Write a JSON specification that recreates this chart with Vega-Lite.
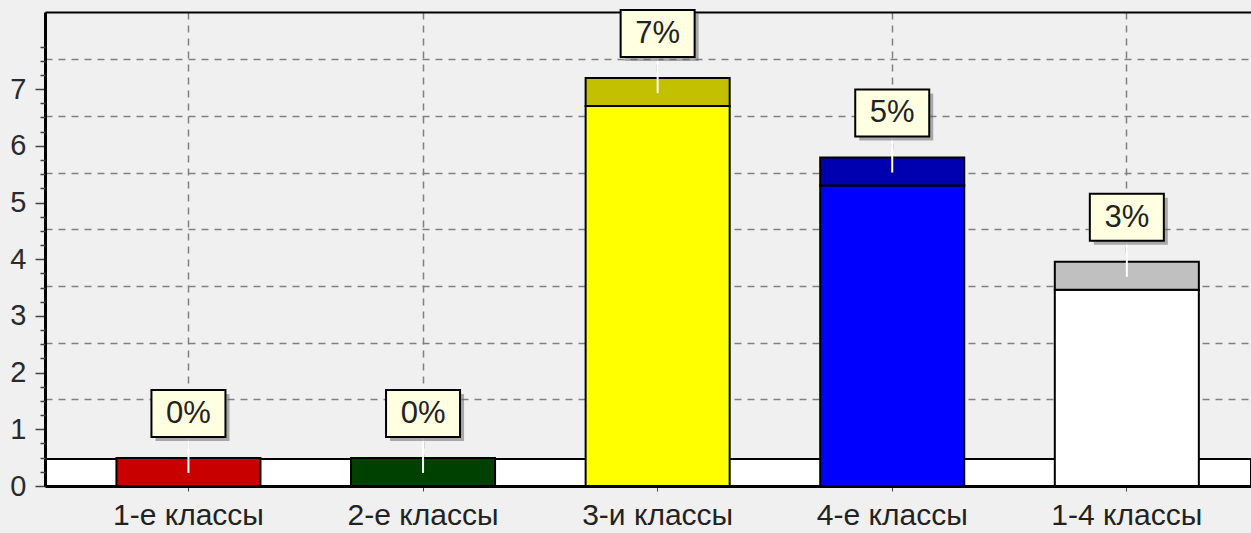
{
  "$schema": "https://vega.github.io/schema/vega-lite/v6.json",
  "width": 1206,
  "height": 474,
  "autosize": {"type": "none"},
  "padding": {"left": 45, "top": 12, "right": 0, "bottom": 47},
  "background": "#f0f0f0",
  "view": {"stroke": null, "fill": "#f0f0f0"},
  "data": {
    "values": [
      {"class": "1-е классы", "value": 0, "label": "0%"},
      {"class": "2-е классы", "value": 0, "label": "0%"},
      {"class": "3-и классы", "value": 6.7, "label": "7%"},
      {"class": "4-е классы", "value": 5.3, "label": "5%"},
      {"class": "1-4 классы", "value": 3.46, "label": "3%"}
    ]
  },
  "layer": [
    {
      "mark": {"type": "rect", "fill": "#ffffff", "stroke": "#000000", "strokeWidth": 2, "y2Offset": -27},
      "encoding": {
        "y": {
          "datum": 0, "type": "quantitative",
          "scale": {"domain": [0, 8.36], "nice": false, "zero": false},
          "axis": {"orient": "left", "values": [1, 2, 3, 4, 5, 6, 7], "grid": true, "gridDash": [7, 6], "gridColor": "#808080", "gridWidth": 1.5, "tickOffset": -30, "labels": false, "ticks": false, "domain": false, "title": null, "zindex": 0}
        },
        "y2": {"datum": 0}
      }
    },
    {
      "mark": {"type": "bar", "stroke": "#000000", "strokeWidth": 2},
      "encoding": {
        "x": {
          "field": "class", "type": "nominal", "sort": null,
          "scale": {"paddingInner": 0.386, "paddingOuter": 0.2634, "align": 0.578},
          "axis": {"orient": "bottom", "grid": true, "gridDash": [7, 6], "gridColor": "#808080", "gridWidth": 1.5, "domainColor": "#000000", "domainWidth": 3, "ticks": true, "tickSize": 5, "tickColor": "#444444", "labelFont": "Liberation Sans", "labelFontSize": 30, "labelColor": "#222222", "labelPadding": 9, "labelAngle": 0, "title": null, "zindex": 0}
        },
        "y": {
          "field": "value", "type": "quantitative",
          "scale": {"domain": [0, 8.36], "nice": false, "zero": false},
          "axis": {"orient": "left", "values": [0, 1, 2, 3, 4, 5, 6, 7], "grid": false, "domainColor": "#000000", "domainWidth": 3, "tickColor": "#444444", "tickSize": 10, "tickWidth": 1.5, "labelFont": "Liberation Sans", "labelFontSize": 29, "labelColor": "#2a2a2a", "labelPadding": 9, "title": null, "zindex": 1}
        },
        "color": {
          "field": "class", "type": "nominal", "sort": null, "legend": null,
          "scale": {"domain": ["1-е классы", "2-е классы", "3-и классы", "4-е классы", "1-4 классы"], "range": ["#ff0000", "#006000", "#ffff00", "#0000ff", "#ffffff"]}
        }
      }
    },
    {
      "mark": {"type": "bar", "stroke": "#000000", "strokeWidth": 2, "y2Offset": -28},
      "encoding": {
        "x": {"field": "class", "type": "nominal", "sort": null, "scale": {"paddingInner": 0.386, "paddingOuter": 0.2634, "align": 0.578}, "axis": null},
        "y": {
          "field": "value", "type": "quantitative",
          "scale": {"domain": [0, 8.36], "nice": false, "zero": false},
          "axis": {"orient": "left", "values": [0.25, 0.5, 0.75, 1.25, 1.5, 1.75, 2.25, 2.5, 2.75, 3.25, 3.5, 3.75, 4.25, 4.5, 4.75, 5.25, 5.5, 5.75, 6.25, 6.5, 6.75, 7.25, 7.5, 7.75], "grid": false, "labels": false, "domain": false, "tickColor": "#444444", "tickSize": 5, "tickWidth": 1.5, "title": null, "zindex": 1}
        },
        "y2": {"field": "value"},
        "color": {
          "field": "class", "type": "nominal", "sort": null, "legend": null,
          "scale": {"domain": ["1-е классы", "2-е классы", "3-и классы", "4-е классы", "1-4 классы"], "range": ["#c80000", "#004000", "#c2c000", "#0000b0", "#c0c0c0"]}
        }
      }
    },
    {
      "mark": {"type": "rule", "color": "#ffffff", "strokeWidth": 2, "yOffset": -49, "y2Offset": -13},
      "encoding": {
        "x": {"field": "class", "type": "nominal", "sort": null, "scale": {"paddingInner": 0.386, "paddingOuter": 0.2634, "align": 0.578}, "axis": null},
        "y": {"field": "value", "type": "quantitative", "scale": {"domain": [0, 8.36], "nice": false, "zero": false}, "axis": null},
        "y2": {"field": "value"}
      }
    },
    {
      "mark": {"type": "bar", "width": 74, "color": "#606060", "opacity": 0.5, "xOffset": 4, "yOffset": -92, "y2Offset": -45},
      "encoding": {
        "x": {"field": "class", "type": "nominal", "sort": null, "scale": {"paddingInner": 0.386, "paddingOuter": 0.2634, "align": 0.578}, "axis": null},
        "y": {"field": "value", "type": "quantitative", "scale": {"domain": [0, 8.36], "nice": false, "zero": false}, "axis": null},
        "y2": {"field": "value"}
      }
    },
    {
      "mark": {"type": "bar", "width": 74, "fill": "#ffffe1", "stroke": "#000000", "strokeWidth": 2, "yOffset": -96, "y2Offset": -49},
      "encoding": {
        "x": {
          "field": "class", "type": "nominal", "sort": null,
          "scale": {"paddingInner": 0.386, "paddingOuter": 0.2634, "align": 0.578},
          "axis": {"orient": "top", "labels": false, "ticks": false, "grid": false, "domain": true, "domainColor": "#000000", "domainWidth": 2, "title": null}
        },
        "y": {"field": "value", "type": "quantitative", "scale": {"domain": [0, 8.36], "nice": false, "zero": false}, "axis": null},
        "y2": {"field": "value"}
      }
    },
    {
      "mark": {"type": "text", "font": "Liberation Sans", "fontSize": 31, "color": "#222222", "yOffset": -72, "baseline": "middle", "align": "center"},
      "encoding": {
        "x": {"field": "class", "type": "nominal", "sort": null, "scale": {"paddingInner": 0.386, "paddingOuter": 0.2634, "align": 0.578}, "axis": null},
        "y": {"field": "value", "type": "quantitative", "scale": {"domain": [0, 8.36], "nice": false, "zero": false}, "axis": null},
        "text": {"field": "label"}
      }
    }
  ],
  "resolve": {
    "scale": {"color": "independent"},
    "axis": {"x": "independent", "y": "independent"}
  }
}
